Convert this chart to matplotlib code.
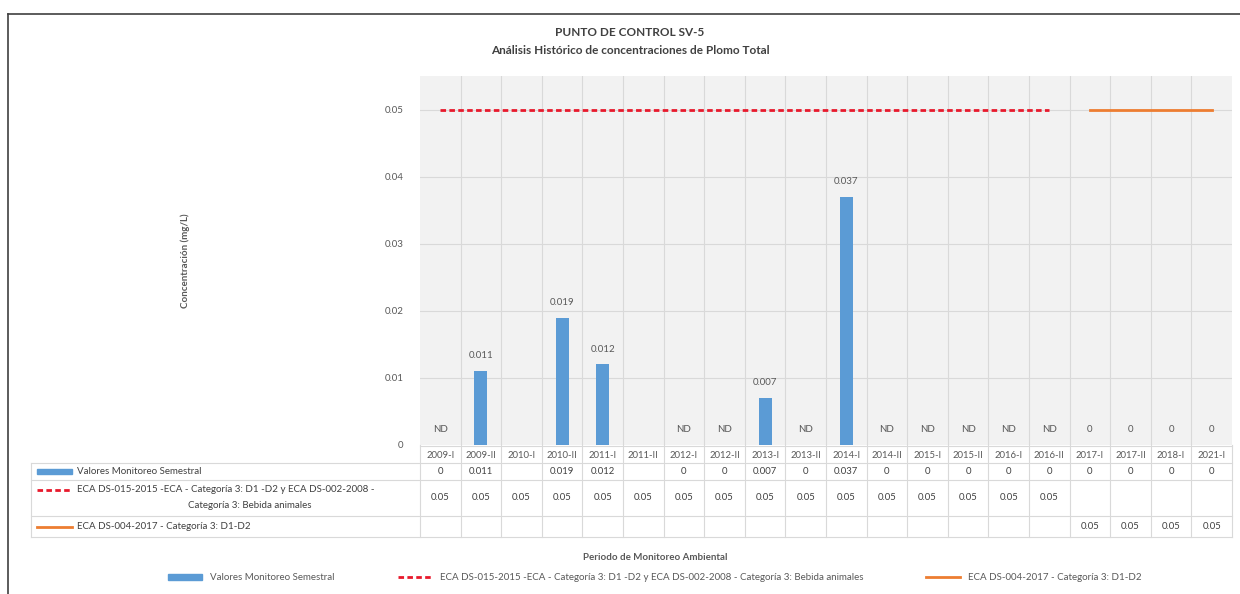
import matplotlib
matplotlib.use('Agg')
import matplotlib.pyplot as plt
from matplotlib.lines import Line2D
from matplotlib.patches import Patch, Rectangle
from matplotlib.transforms import blended_transform_factory

plt.rcParams['font.family'] = ['Lato', 'DejaVu Sans']

# --- datos ---
categorias = ['2009-I', '2009-II', '2010-I', '2010-II', '2011-I', '2011-II', '2012-I', '2012-II',
              '2013-I', '2013-II', '2014-I', '2014-II', '2015-I', '2015-II', '2016-I', '2016-II',
              '2017-I', '2017-II', '2018-I', '2021-I']
valores = [0, 0.011, None, 0.019, 0.012, None, 0, 0, 0.007, 0, 0.037, 0, 0, 0, 0, 0, 0, 0, 0, 0]
etiquetas_barras = ['ND', '0.011', '', '0.019', '0.012', '', 'ND', 'ND', '0.007', 'ND', '0.037',
                    'ND', 'ND', 'ND', 'ND', 'ND', '0', '0', '0', '0']
tabla_valores = ['0', '0.011', '', '0.019', '0.012', '', '0', '0', '0.007', '0', '0.037',
                 '0', '0', '0', '0', '0', '0', '0', '0', '0']
eca_2015 = [0.05, 0.05, 0.05, 0.05, 0.05, 0.05, 0.05, 0.05, 0.05, 0.05, 0.05, 0.05, 0.05, 0.05,
            0.05, 0.05, None, None, None, None]
eca_2017 = [None, None, None, None, None, None, None, None, None, None, None, None, None, None,
            None, None, 0.05, 0.05, 0.05, 0.05]
yticks = [0, 0.01, 0.02, 0.03, 0.04, 0.05]

nombre_valores = 'Valores Monitoreo Semestral'
nombre_eca1 = 'ECA DS-015-2015 -ECA - Categoría 3: D1 -D2 y ECA DS-002-2008 - Categoría 3: Bebida animales'
nombre_eca1_l1 = 'ECA DS-015-2015 -ECA - Categoría 3: D1 -D2 y ECA DS-002-2008 -'
nombre_eca1_l2 = 'Categoría 3: Bebida animales'
nombre_eca2 = 'ECA DS-004-2017 - Categoría 3: D1-D2'

AZUL = '#5B9BD5'
ROJO = '#E8192C'
NARANJA = '#ED7D31'
GRIS_TXT = '#595959'
GRIS_LIN = '#D9D9D9'

W, H = 1240, 594
fig = plt.figure(figsize=(W / 100, H / 100), dpi=100)

def fy(py):
    return 1 - py / H

def fx(px):
    return px / W

x0, x1, ytop, ybot = 420, 1232, 76, 445
ax = fig.add_axes([fx(x0), fy(ybot), fx(x1) - fx(x0), fy(ytop) - fy(ybot)])
ax.set_facecolor('#F2F2F2')

n = len(categorias)
xs = list(range(n))
ax.set_xlim(-0.5, n - 0.5)
ax.set_ylim(0, 0.055)

# barras
for i, v in enumerate(valores):
    if v is None:
        continue
    ax.bar(i, v, width=0.32, color=AZUL, zorder=3)
for i, lab in enumerate(etiquetas_barras):
    if not lab:
        continue
    v = valores[i] or 0
    ax.annotate(lab, (i, v), xytext=(0, 11), textcoords='offset points',
                ha='center', va='center', fontsize=7, color=GRIS_TXT)

# lineas ECA
xe1 = [i for i, v in enumerate(eca_2015) if v is not None]
ye1 = [v for v in eca_2015 if v is not None]
ax.plot(xe1, ye1, color=ROJO, lw=2, ls=(0, (2, 1.2)), zorder=4)
xe2 = [i for i, v in enumerate(eca_2017) if v is not None]
ye2 = [v for v in eca_2017 if v is not None]
ax.plot(xe2, ye2, color=NARANJA, lw=2, zorder=4)

# grilla
ax.set_yticks(yticks)
ax.set_yticklabels(['0', '0.01', '0.02', '0.03', '0.04', '0.05'], fontsize=7, color=GRIS_TXT)
ax.tick_params(axis='y', length=0, pad=12)
ax.set_xticks([])
for yv in yticks[1:]:
    ax.axhline(yv, color=GRIS_LIN, lw=0.8, zorder=1)
for i in range(1, n):
    ax.axvline(i - 0.5, color=GRIS_LIN, lw=0.8, zorder=1)
for s in ax.spines.values():
    s.set_visible(False)

ax.set_ylabel('Concentración (mg/L)', fontsize=7, fontweight='bold', color=GRIS_TXT)
ax.yaxis.set_label_coords(fx(190 - x0) / (fx(x1) - fx(x0)), 0.5)

# titulo
fig.text(fx(630), fy(33), 'PUNTO DE CONTROL SV-5', ha='center', va='center',
         fontsize=8.5, fontweight='bold', color='#404040')
fig.text(fx(630), fy(50), 'Análisis Histórico de concentraciones de Plomo Total', ha='center',
         va='center', fontsize=8.5, fontweight='bold', color='#404040')

# --- tabla de datos ---
tr = blended_transform_factory(ax.transData, fig.transFigure)
tf = fig.transFigure
row_lines = [463, 480, 516, 537]
# lineas horizontales
fig.add_artist(Line2D([fx(x0), fx(x1)], [fy(ybot + 1), fy(ybot + 1)], color=GRIS_LIN, lw=0.8))
for ry in row_lines:
    fig.add_artist(Line2D([fx(31), fx(x1)], [fy(ry), fy(ry)], color=GRIS_LIN, lw=0.8))
# lineas verticales
for i in range(n + 1):
    fig.add_artist(Line2D([i - 0.5, i - 0.5], [fy(ybot), fy(537)], color=GRIS_LIN, lw=0.8,
                          transform=tr))
fig.add_artist(Line2D([fx(31), fx(31)], [fy(463), fy(537)], color=GRIS_LIN, lw=0.8))

cy_cat, cy_val, cy_e1, cy_e2 = 455, 471.5, 498, 526.5
for i in xs:
    fig.text(i, fy(cy_cat), categorias[i], transform=tr, ha='center', va='center',
             fontsize=6.8, color=GRIS_TXT)
    if tabla_valores[i]:
        fig.text(i, fy(cy_val), tabla_valores[i], transform=tr, ha='center', va='center',
                 fontsize=6.8, color='#404040')
    if eca_2015[i] is not None:
        fig.text(i, fy(cy_e1), f'{eca_2015[i]:g}', transform=tr, ha='center', va='center',
                 fontsize=6.8, color='#404040')
    if eca_2017[i] is not None:
        fig.text(i, fy(cy_e2), f'{eca_2017[i]:g}', transform=tr, ha='center', va='center',
                 fontsize=6.8, color='#404040')

# encabezados de fila con claves de leyenda
fig.add_artist(Rectangle((fx(37), fy(cy_val + 2.5)), fx(35), 5 / H, color=AZUL, transform=tf))
fig.text(fx(77), fy(cy_val), nombre_valores, ha='left', va='center', fontsize=7, color='#404040')
fig.add_artist(Line2D([fx(37), fx(72)], [fy(490), fy(490)], color=ROJO, lw=2,
                      ls=(0, (2, 1.2))))
fig.text(fx(77), fy(490), nombre_eca1_l1, ha='left', va='center', fontsize=7, color='#404040')
fig.text(fx(250), fy(506), nombre_eca1_l2, ha='center', va='center', fontsize=7, color='#404040')
fig.add_artist(Line2D([fx(37), fx(72)], [fy(cy_e2), fy(cy_e2)], color=NARANJA, lw=2))
fig.text(fx(77), fy(cy_e2), nombre_eca2, ha='left', va='center', fontsize=7, color='#404040')

# titulo eje x
fig.text(fx(655), fy(557), 'Periodo de Monitoreo Ambiental', ha='center', va='center',
         fontsize=7, fontweight='bold', color=GRIS_TXT)

# leyenda inferior
handles = [Patch(color=AZUL),
           Line2D([], [], color=ROJO, lw=2, ls=(0, (2, 1.2))),
           Line2D([], [], color=NARANJA, lw=2)]
fig.legend(handles, [nombre_valores, nombre_eca1, nombre_eca2], loc='center',
           bbox_to_anchor=(fx(655), fy(578)), ncol=3, frameon=False, fontsize=7,
           handlelength=3.5, handleheight=0.6, columnspacing=6.5, labelcolor=GRIS_TXT)

# marco
fig.add_artist(Line2D([fx(8), 1], [fy(14), fy(14)], color='#404040', lw=1.2))
fig.add_artist(Line2D([fx(8), fx(8)], [fy(14), 0], color='#404040', lw=1.2))

fig.savefig('out.png', dpi=100, facecolor='white')
